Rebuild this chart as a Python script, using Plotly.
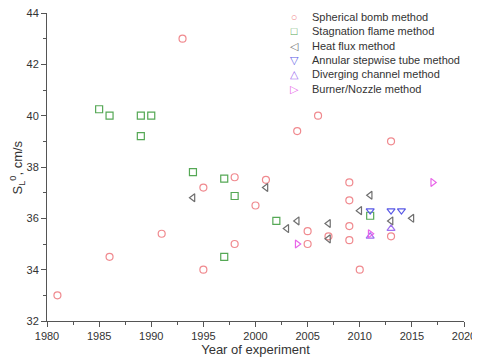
import plotly.graph_objects as go

# Spherical bomb method
bomb_year = [1981, 1986, 1991, 1993, 1995, 1995, 1998, 1998, 2000, 2001, 2004,
             2005, 2005, 2006, 2007, 2009, 2009, 2009, 2009, 2010, 2013, 2013]
bomb_sl = [33.0, 34.5, 35.4, 43.0, 34.0, 37.2, 35.0, 37.6, 36.5, 37.5, 39.4,
           35.5, 35.0, 40.0, 35.3, 37.4, 36.7, 35.7, 35.15, 34.0, 39.0, 35.3]

# Stagnation flame method
stag_year = [1985, 1986, 1989, 1990, 1989, 1994, 1997, 1998, 1997, 2002, 2011]
stag_sl = [40.25, 40.0, 40.0, 40.0, 39.2, 37.8, 37.55, 36.87, 34.5, 35.9, 36.1]

# Heat flux method
flux_year = [1994, 2001, 2003, 2004, 2007, 2007, 2010, 2011, 2013, 2015]
flux_sl = [36.8, 37.2, 35.6, 35.9, 35.8, 35.2, 36.3, 36.9, 35.9, 36.0]

# Annular stepwise tube method
tube_year = [2011, 2013, 2014]
tube_sl = [36.3, 36.3, 36.3]

# Diverging channel method
chan_year = [2011, 2013]
chan_sl = [35.3, 35.6]

# Burner/Nozzle method
burner_year = [2004, 2011, 2017]
burner_sl = [35.0, 35.4, 37.4]

series = [
    ("Spherical bomb method", bomb_year, bomb_sl, "circle-open", "#f08a8f", "○"),
    ("Stagnation flame method", stag_year, stag_sl, "square-open", "#55a855", "□"),
    ("Heat flux method", flux_year, flux_sl, "triangle-left-open", "#6e6e6e", "◁"),
    ("Annular stepwise tube method", tube_year, tube_sl, "triangle-down-open", "#5a5ae6", "▽"),
    ("Diverging channel method", chan_year, chan_sl, "triangle-up-open", "#a070f0", "△"),
    ("Burner/Nozzle method", burner_year, burner_sl, "triangle-right-open", "#e866e8", "▷"),
]

fig = go.Figure()
for name, xs, ys, symbol, color, _ in series:
    fig.add_trace(go.Scatter(
        x=xs, y=ys, mode="markers", name=name, showlegend=False,
        marker=dict(symbol=symbol, size=7, color=color, line=dict(width=1.2, color=color)),
    ))

# plotly's legend rows are too tall, so the legend is drawn as two text columns
glyphs = "<br>".join(f"<span style='color:{c}'>{g}</span>" for _, _, _, _, c, g in series)
labels = "<br>".join(s[0] for s in series)
fig.add_annotation(x=0.593, y=1.013, xref="paper", yref="paper", xanchor="center", yanchor="top",
                   text=glyphs, showarrow=False, align="center", font=dict(size=11))
fig.add_annotation(x=0.631, y=1.013, xref="paper", yref="paper", xanchor="left", yanchor="top",
                   text=labels, showarrow=False, align="left", font=dict(size=11, color="#333"))
# y title as annotation so it can sit closer to the page edge
fig.add_annotation(x=-0.071, y=0.5, xref="paper", yref="paper", xanchor="center", yanchor="middle",
                   text="S<sub>L</sub><sup>0</sup>, cm/s", textangle=-90, showarrow=False,
                   font=dict(size=13, color="#333"))

axis_style = dict(
    showline=True, linecolor="#555", linewidth=1, showgrid=False, zeroline=False,
    ticks="outside", ticklen=5, tickcolor="#555", tickfont=dict(size=11, color="#333"),
    mirror=False, automargin=False, ticklabeloverflow="allow",
)
fig.update_xaxes(range=[1980, 2020], dtick=5,
                 minor=dict(ticks="outside", ticklen=3, dtick=2.5, tickcolor="#555"),
                 title=dict(text="Year of experiment", font=dict(size=13, color="#333"), standoff=3),
                 **axis_style)
fig.update_yaxes(range=[32, 44], dtick=2,
                 minor=dict(ticks="outside", ticklen=3, dtick=1, tickcolor="#555"),
                 **axis_style)

# the page body keeps its 8px margin, so the figure is 8px smaller than the window
fig.update_layout(
    width=472, height=352,
    margin=dict(l=39, r=16, t=5, b=39),
    plot_bgcolor="white", paper_bgcolor="white",
    font=dict(family="Arial, Liberation Sans, sans-serif", color="#333"),
)

fig.write_html("out.html")
